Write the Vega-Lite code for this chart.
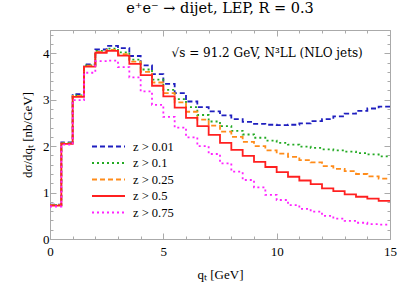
{
  "$schema": "https://vega.github.io/schema/vega-lite/v6.json",
  "width": 340,
  "height": 209,
  "autosize": {"type": "none"},
  "padding": {"left": 50, "top": 30, "right": 9, "bottom": 46},
  "title": {"text": "e⁺e⁻ → dijet, LEP, R = 0.3", "font": "DejaVu Serif", "fontSize": 14.5, "fontWeight": "normal", "color": "black", "anchor": "middle", "offset": 12},
  "config": {"view": {"stroke": "#aaaaaa"}, "font": "Liberation Serif"},
  "datasets": {
    "curves": [
      {"s":"z > 0.01","q":0,"v":0.74},{"s":"z > 0.01","q":0.5,"v":2.08},{"s":"z > 0.01","q":1,"v":3.12},{"s":"z > 0.01","q":1.5,"v":3.76},{"s":"z > 0.01","q":2,"v":4.08},{"s":"z > 0.01","q":2.5,"v":4.16},{"s":"z > 0.01","q":3,"v":4.11},{"s":"z > 0.01","q":3.5,"v":3.94},{"s":"z > 0.01","q":4,"v":3.74},{"s":"z > 0.01","q":4.5,"v":3.55},{"s":"z > 0.01","q":5,"v":3.34},{"s":"z > 0.01","q":5.5,"v":3.14},{"s":"z > 0.01","q":6,"v":2.96},{"s":"z > 0.01","q":6.5,"v":2.84},{"s":"z > 0.01","q":7,"v":2.75},{"s":"z > 0.01","q":7.5,"v":2.66},{"s":"z > 0.01","q":8,"v":2.58},{"s":"z > 0.01","q":8.5,"v":2.52},{"s":"z > 0.01","q":9,"v":2.48},{"s":"z > 0.01","q":9.5,"v":2.46},{"s":"z > 0.01","q":10,"v":2.45},{"s":"z > 0.01","q":10.5,"v":2.46},{"s":"z > 0.01","q":11,"v":2.49},{"s":"z > 0.01","q":11.5,"v":2.54},{"s":"z > 0.01","q":12,"v":2.58},{"s":"z > 0.01","q":12.5,"v":2.64},{"s":"z > 0.01","q":13,"v":2.70},{"s":"z > 0.01","q":13.5,"v":2.76},{"s":"z > 0.01","q":14,"v":2.81},{"s":"z > 0.01","q":14.5,"v":2.85},{"s":"z > 0.01","q":15,"v":2.85},
      {"s":"z > 0.1","q":0,"v":0.73},{"s":"z > 0.1","q":0.5,"v":2.07},{"s":"z > 0.1","q":1,"v":3.09},{"s":"z > 0.1","q":1.5,"v":3.74},{"s":"z > 0.1","q":2,"v":4.05},{"s":"z > 0.1","q":2.5,"v":4.10},{"s":"z > 0.1","q":3,"v":4.02},{"s":"z > 0.1","q":3.5,"v":3.86},{"s":"z > 0.1","q":4,"v":3.65},{"s":"z > 0.1","q":4.5,"v":3.43},{"s":"z > 0.1","q":5,"v":3.21},{"s":"z > 0.1","q":5.5,"v":3.01},{"s":"z > 0.1","q":6,"v":2.84},{"s":"z > 0.1","q":6.5,"v":2.67},{"s":"z > 0.1","q":7,"v":2.53},{"s":"z > 0.1","q":7.5,"v":2.43},{"s":"z > 0.1","q":8,"v":2.33},{"s":"z > 0.1","q":8.5,"v":2.25},{"s":"z > 0.1","q":9,"v":2.18},{"s":"z > 0.1","q":9.5,"v":2.12},{"s":"z > 0.1","q":10,"v":2.07},{"s":"z > 0.1","q":10.5,"v":2.03},{"s":"z > 0.1","q":11,"v":1.99},{"s":"z > 0.1","q":11.5,"v":1.96},{"s":"z > 0.1","q":12,"v":1.93},{"s":"z > 0.1","q":12.5,"v":1.91},{"s":"z > 0.1","q":13,"v":1.88},{"s":"z > 0.1","q":13.5,"v":1.85},{"s":"z > 0.1","q":14,"v":1.82},{"s":"z > 0.1","q":14.5,"v":1.78},{"s":"z > 0.1","q":15,"v":1.78},
      {"s":"z > 0.25","q":0,"v":0.73},{"s":"z > 0.25","q":0.5,"v":2.06},{"s":"z > 0.25","q":1,"v":3.08},{"s":"z > 0.25","q":1.5,"v":3.73},{"s":"z > 0.25","q":2,"v":4.03},{"s":"z > 0.25","q":2.5,"v":4.07},{"s":"z > 0.25","q":3,"v":3.98},{"s":"z > 0.25","q":3.5,"v":3.82},{"s":"z > 0.25","q":4,"v":3.60},{"s":"z > 0.25","q":4.5,"v":3.37},{"s":"z > 0.25","q":5,"v":3.14},{"s":"z > 0.25","q":5.5,"v":2.94},{"s":"z > 0.25","q":6,"v":2.74},{"s":"z > 0.25","q":6.5,"v":2.57},{"s":"z > 0.25","q":7,"v":2.44},{"s":"z > 0.25","q":7.5,"v":2.31},{"s":"z > 0.25","q":8,"v":2.20},{"s":"z > 0.25","q":8.5,"v":2.09},{"s":"z > 0.25","q":9,"v":2.00},{"s":"z > 0.25","q":9.5,"v":1.91},{"s":"z > 0.25","q":10,"v":1.84},{"s":"z > 0.25","q":10.5,"v":1.77},{"s":"z > 0.25","q":11,"v":1.70},{"s":"z > 0.25","q":11.5,"v":1.65},{"s":"z > 0.25","q":12,"v":1.57},{"s":"z > 0.25","q":12.5,"v":1.51},{"s":"z > 0.25","q":13,"v":1.46},{"s":"z > 0.25","q":13.5,"v":1.40},{"s":"z > 0.25","q":14,"v":1.35},{"s":"z > 0.25","q":14.5,"v":1.30},{"s":"z > 0.25","q":15,"v":1.30},
      {"s":"z > 0.5","q":0,"v":0.72},{"s":"z > 0.5","q":0.5,"v":2.05},{"s":"z > 0.5","q":1,"v":3.06},{"s":"z > 0.5","q":1.5,"v":3.71},{"s":"z > 0.5","q":2,"v":4.01},{"s":"z > 0.5","q":2.5,"v":4.05},{"s":"z > 0.5","q":3,"v":3.95},{"s":"z > 0.5","q":3.5,"v":3.77},{"s":"z > 0.5","q":4,"v":3.53},{"s":"z > 0.5","q":4.5,"v":3.30},{"s":"z > 0.5","q":5,"v":3.07},{"s":"z > 0.5","q":5.5,"v":2.83},{"s":"z > 0.5","q":6,"v":2.61},{"s":"z > 0.5","q":6.5,"v":2.43},{"s":"z > 0.5","q":7,"v":2.24},{"s":"z > 0.5","q":7.5,"v":2.07},{"s":"z > 0.5","q":8,"v":1.92},{"s":"z > 0.5","q":8.5,"v":1.79},{"s":"z > 0.5","q":9,"v":1.66},{"s":"z > 0.5","q":9.5,"v":1.55},{"s":"z > 0.5","q":10,"v":1.44},{"s":"z > 0.5","q":10.5,"v":1.34},{"s":"z > 0.5","q":11,"v":1.26},{"s":"z > 0.5","q":11.5,"v":1.18},{"s":"z > 0.5","q":12,"v":1.09},{"s":"z > 0.5","q":12.5,"v":1.03},{"s":"z > 0.5","q":13,"v":0.96},{"s":"z > 0.5","q":13.5,"v":0.91},{"s":"z > 0.5","q":14,"v":0.87},{"s":"z > 0.5","q":14.5,"v":0.82},{"s":"z > 0.5","q":15,"v":0.82},
      {"s":"z > 0.75","q":0,"v":0.70},{"s":"z > 0.75","q":0.5,"v":2.03},{"s":"z > 0.75","q":1,"v":2.99},{"s":"z > 0.75","q":1.5,"v":3.58},{"s":"z > 0.75","q":2,"v":3.83},{"s":"z > 0.75","q":2.5,"v":3.84},{"s":"z > 0.75","q":3,"v":3.70},{"s":"z > 0.75","q":3.5,"v":3.48},{"s":"z > 0.75","q":4,"v":3.18},{"s":"z > 0.75","q":4.5,"v":2.89},{"s":"z > 0.75","q":5,"v":2.63},{"s":"z > 0.75","q":5.5,"v":2.40},{"s":"z > 0.75","q":6,"v":2.19},{"s":"z > 0.75","q":6.5,"v":2.00},{"s":"z > 0.75","q":7,"v":1.83},{"s":"z > 0.75","q":7.5,"v":1.63},{"s":"z > 0.75","q":8,"v":1.45},{"s":"z > 0.75","q":8.5,"v":1.27},{"s":"z > 0.75","q":9,"v":1.11},{"s":"z > 0.75","q":9.5,"v":0.95},{"s":"z > 0.75","q":10,"v":0.84},{"s":"z > 0.75","q":10.5,"v":0.73},{"s":"z > 0.75","q":11,"v":0.65},{"s":"z > 0.75","q":11.5,"v":0.59},{"s":"z > 0.75","q":12,"v":0.50},{"s":"z > 0.75","q":12.5,"v":0.44},{"s":"z > 0.75","q":13,"v":0.39},{"s":"z > 0.75","q":13.5,"v":0.35},{"s":"z > 0.75","q":14,"v":0.32},{"s":"z > 0.75","q":14.5,"v":0.31},{"s":"z > 0.75","q":15,"v":0.31}
    ],
    "note": [{"q": 13.8, "v": 4.0, "label": "√s = 91.2 GeV,  N³LL (NLO jets)"}]
  },
  "layer": [
    {
      "data": {"name": "curves"},
      "mark": {"type": "line", "interpolate": "step-after", "strokeWidth": 1.8},
      "encoding": {
        "x": {"field": "q", "type": "quantitative", "scale": {"domain": [0, 15], "nice": false, "zero": false},
          "axis": {"orient": "bottom", "values": [0,1,2,3,4,5,6,7,8,9,10,11,12,13,14,15],
            "labelExpr": "datum.value % 5 === 0 ? datum.label : ''",
            "tickSize": {"condition": {"test": "datum.value % 5 === 0", "value": -6}, "value": -3},
            "tickColor": "#aaaaaa", "domainColor": "#aaaaaa", "grid": false,
            "labelFont": "Liberation Serif", "labelFontSize": 13, "labelColor": "black", "labelPadding": 12,
            "labelOverlap": false, "labelFlush": false,
            "title": "qₜ [GeV]", "titleFont": "Liberation Serif", "titleFontSize": 13, "titleFontWeight": "normal", "titleColor": "black", "titlePadding": 7}},
        "y": {"field": "v", "type": "quantitative", "scale": {"domain": [0, 4.5], "nice": false},
          "axis": {"orient": "left", "values": [0,0.2,0.4,0.6,0.8,1,1.2,1.4,1.6,1.8,2,2.2,2.4,2.6,2.8,3,3.2,3.4,3.6,3.8,4,4.2,4.4],
            "labelExpr": "abs(datum.value - round(datum.value)) < 0.001 ? format(datum.value, 'd') : ''",
            "tickSize": {"condition": {"test": "abs(datum.value - round(datum.value)) < 0.001", "value": -6}, "value": -3},
            "tickColor": "#aaaaaa", "domainColor": "#aaaaaa", "grid": false,
            "labelFont": "Liberation Serif", "labelFontSize": 13, "labelColor": "black", "labelPadding": 7,
            "labelOverlap": false, "labelFlush": false,
            "title": "dσ/dqₜ [nb/GeV]", "titleFont": "Liberation Serif", "titleFontSize": 13, "titleFontWeight": "normal", "titleColor": "black", "titlePadding": 8}},
        "color": {"field": "s", "type": "nominal",
          "scale": {"domain": ["z > 0.01", "z > 0.1", "z > 0.25", "z > 0.5", "z > 0.75"], "range": ["#1f1fbf", "#22aa22", "#ff8c1a", "#ff2020", "#ff22ff"]},
          "legend": {"orient": "none", "legendX": 52, "legendY": 110, "title": null, "symbolType": "M-3,0H3", "symbolSize": 121, "symbolStrokeWidth": 2, "labelFont": "Liberation Serif", "labelFontSize": 12.5, "labelColor": "black", "labelOffset": 18, "rowPadding": 3.5}},
        "strokeDash": {"field": "s", "type": "nominal",
          "scale": {"domain": ["z > 0.01", "z > 0.1", "z > 0.25", "z > 0.5", "z > 0.75"], "range": [[5, 3], [2, 3], [5, 3], [1, 0], [2, 3]]},
          "legend": {"orient": "none", "legendX": 52, "legendY": 110, "title": null, "symbolType": "M-3,0H3", "symbolSize": 121, "symbolStrokeWidth": 2, "labelFont": "Liberation Serif", "labelFontSize": 12.5, "labelColor": "black", "labelOffset": 18, "rowPadding": 3.5}}
      }
    },
    {
      "data": {"name": "note"},
      "mark": {"type": "text", "align": "right", "baseline": "middle", "font": "DejaVu Serif", "fontSize": 12, "color": "black"},
      "encoding": {
        "x": {"field": "q", "type": "quantitative",
          "axis": {"orient": "top", "values": [0,1,2,3,4,5,6,7,8,9,10,11,12,13,14,15], "labels": false, "title": null,
            "tickSize": {"condition": {"test": "datum.value % 5 === 0", "value": -6}, "value": -3},
            "tickColor": "#aaaaaa", "domainColor": "#aaaaaa", "grid": false}},
        "y": {"field": "v", "type": "quantitative",
          "axis": {"orient": "right", "values": [0,0.2,0.4,0.6,0.8,1,1.2,1.4,1.6,1.8,2,2.2,2.4,2.6,2.8,3,3.2,3.4,3.6,3.8,4,4.2,4.4], "labels": false, "title": null,
            "tickSize": {"condition": {"test": "abs(datum.value - round(datum.value)) < 0.001", "value": -6}, "value": -3},
            "tickColor": "#aaaaaa", "domainColor": "#aaaaaa", "grid": false}},
        "text": {"field": "label"}
      }
    }
  ],
  "resolve": {"axis": {"x": "independent", "y": "independent"}}
}
